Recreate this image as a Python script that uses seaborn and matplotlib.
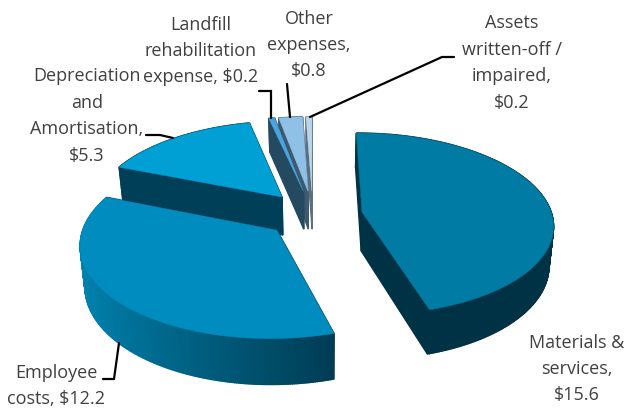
import numpy as np
import seaborn as sns
import matplotlib.pyplot as plt

# values in $m, clockwise from the top of the pie
categories = ['Materials &\nservices,', 'Employee\ncosts,', 'Depreciation\nand\nAmortisation,',
              'Landfill\nrehabilitation\nexpense,', 'Other\nexpenses,', 'Assets\nwritten-off /\nimpaired,']
values = [15.6, 12.2, 5.3, 0.2, 0.8, 0.2]
joiners = ['\n', ' ', '\n', ' ', '\n', '\n']

top_colors = ['#007ba4', '#008cbe', '#009fd4', '#4aa3dc', '#8fc1e6', '#bad6ee']
side_light = ['#003246', '#0083b0', '#003f58', '#234a60', '#3f5a6e', '#5a6f80']
side_dark = ['#003246', '#003a50', '#003f58', '#234a60', '#3f5a6e', '#5a6f80']

# offset of each slice from the pie centre, in radius units (the explosion)
offset_u = [0.222, -0.222, -0.205, -0.09, -0.065, -0.044]
offset_v = [0.033, -0.165, 0.205, 0.271, 0.271, 0.271]

# where the labels go
label_x = [577, 56, 87, 201, 309, 512]
label_y = [369, 386, 116, 51, 45, 63]
leaders = [None,
           [(103, 379), (114, 379), (119, 343)],
           [(146, 135), (160, 135), (173, 138)],
           [(259, 91), (271, 91), (271, 118)],
           [(287, 84), (290, 117)],
           [(310, 117), (442, 57), (454, 57)]]

# perspective camera
Xc, Yc = 320, 215
A, B, k = 190, 90, 0.13
depth = 39
shrink = 0.98
start_angle = -0.3


def project(u, v):
    w = 1 + k * v
    return Xc + A * u / w, Yc - B * v / w, w


def drop(x, y, w):
    # same point on the bottom face
    return Xc + shrink * (x - Xc), y + depth / w


sns.set_theme(style='white')
plt.rcParams['font.family'] = ['Open Sans', 'DejaVu Sans']

fig = plt.figure(figsize=(6.27, 4.12), dpi=100)
ax = fig.add_axes([0, 0, 1, 1])
ax.set_xlim(0, 627)
ax.set_ylim(412, 0)
ax.axis('off')

ends = np.cumsum(values) / np.sum(values) * 360 + start_angle
starts = ends - np.array(values) / np.sum(values) * 360

# back slices first
for i in [5, 4, 3, 2, 1, 0]:
    n = max(3, int((ends[i] - starts[i]) * 2))
    th = np.radians(np.linspace(starts[i], ends[i], n))
    au, av = offset_u[i], offset_v[i]
    ux, uy = au + np.sin(th), av + np.cos(th)
    x, y, w = project(ux, uy)
    x0, y0, w0 = project(au, av)
    bx, by = drop(x, y, w)
    bx0, by0 = drop(x0, y0, w0)

    faces = []
    # two radial walls
    faces.append((av + np.cos(th[0]) / 2, [x0, x[0], bx[0], bx0], [y0, y[0], by[0], by0], side_dark[i]))
    faces.append((av + np.cos(th[-1]) / 2, [x0, x[-1], bx[-1], bx0], [y0, y[-1], by[-1], by0], side_dark[i]))
    # outer wall, colour follows the light from the left
    pal = sns.blend_palette([side_dark[i], side_light[i]], 64)
    for j in range(n - 1):
        t = np.clip((0.34 - np.sin(th[j])) / 1.3, 0, 1)
        faces.append((uy[j], [x[j], x[j + 1], bx[j + 1], bx[j]], [y[j], y[j + 1], by[j + 1], by[j]],
                      pal[int(t * 63)]))
    for f in sorted(faces, key=lambda f: -f[0]):
        ax.fill(f[1], f[2], color=f[3], lw=1.0)

    ax.fill(np.r_[x0, x], np.r_[y0, y], color=top_colors[i], lw=0.3)

for pts in leaders:
    if pts is None:
        continue
    ax.plot([p[0] for p in pts], [p[1] for p in pts], color='black', lw=1.6, solid_joinstyle='miter')

for i in range(len(values)):
    ax.text(label_x[i], label_y[i], categories[i] + joiners[i] + '$' + str(values[i]), ha='center', va='center',
            fontsize=13, color='#404040', linespacing=1.6, parse_math=False)

fig.savefig('out.png', dpi=100)
